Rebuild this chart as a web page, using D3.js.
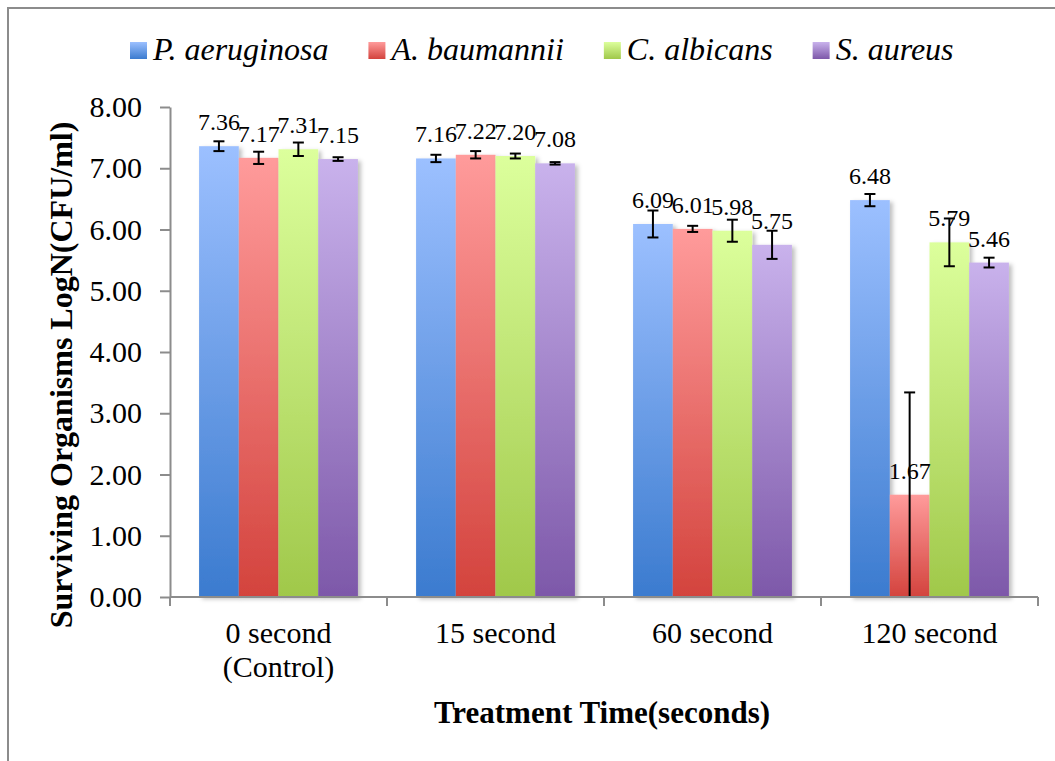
<!DOCTYPE html>
<html>
<head>
<meta charset="utf-8">
<script src="https://cdn.jsdelivr.net/npm/d3@7"></script>
<style>
  body { margin: 0; background: #fff; }
  svg { display: block; }
  text { font-family: "Liberation Serif", "Times New Roman", serif; fill: #000; }
</style>
</head>
<body>
<div id="chart"></div>
<script>
// categories and series
const categories = ["0 second (Control)", "15 second", "60 second", "120 second"];
const categoryLines = [["0 second", "(Control)"], ["15 second"], ["60 second"], ["120 second"]];
const seriesNames = ["P. aeruginosa", "A. baumannii", "C. albicans", "S. aureus"];

// means (LogN CFU/ml)
const pAeruginosa = [7.36, 7.16, 6.09, 6.48];
const aBaumannii = [7.17, 7.22, 6.01, 1.67];
const cAlbicans = [7.31, 7.20, 5.98, 5.79];
const sAureus = [7.15, 7.08, 5.75, 5.46];

// error bars (+/-)
const pAeruginosaErr = [0.08, 0.06, 0.22, 0.10];
const aBaumanniiErr = [0.10, 0.06, 0.05, 1.67];
const cAlbicansErr = [0.11, 0.04, 0.18, 0.39];
const sAureusErr = [0.03, 0.02, 0.23, 0.08];

const yTicks = [0, 1, 2, 3, 4, 5, 6, 7, 8];

const allValues = [pAeruginosa, aBaumannii, cAlbicans, sAureus];
const allErrors = [pAeruginosaErr, aBaumanniiErr, cAlbicansErr, sAureusErr];

// colours : top / bottom of gradient
const colors = [
  ["#9cc0ff", "#3b7bcf"],
  ["#ff9b9b", "#d3433d"],
  ["#dcff9c", "#a0c84a"],
  ["#c9b2ec", "#7d58a9"]
];

const W = 1055, H = 761;
const plot = { left: 170, right: 1038, top: 107, bottom: 597 };

const svg = d3.select("#chart").append("svg")
  .attr("width", W).attr("height", H);

const defs = svg.append("defs");
colors.forEach((c, i) => {
  const g = defs.append("linearGradient")
    .attr("id", "grad" + i)
    .attr("x1", 0).attr("y1", 0).attr("x2", 0).attr("y2", 1);
  g.append("stop").attr("offset", "0%").attr("stop-color", c[0]);
  g.append("stop").attr("offset", "100%").attr("stop-color", c[1]);
});
const f = defs.append("filter").attr("id", "shadow")
  .attr("x", "-20%").attr("y", "-5%").attr("width", "150%").attr("height", "120%");
f.append("feDropShadow").attr("dx", 3).attr("dy", 2).attr("stdDeviation", 2)
  .attr("flood-color", "#000").attr("flood-opacity", 0.25);

// outer frame (top and left visible)
svg.append("path")
  .attr("d", `M8,${H} L8,8 L${W},8`)
  .attr("fill", "none").attr("stroke", "#8c8c8c").attr("stroke-width", 2);

// scales
const x0 = d3.scaleBand().domain(categories).range([plot.left, plot.right]).padding(0);
const gap = x0.bandwidth() * 0.134;
const x1 = d3.scaleBand().domain(seriesNames).range([gap, x0.bandwidth() - gap]).padding(0);
const y = d3.scaleLinear().domain([0, 8]).range([plot.bottom, plot.top]);

// bars
const groups = svg.selectAll("g.cat")
  .data(categories).enter().append("g")
  .attr("class", "cat")
  .attr("transform", d => `translate(${x0(d)},0)`);

groups.each(function (cat, ci) {
  const g = d3.select(this);
  const rows = seriesNames.map((s, si) => ({
    s, si, v: allValues[si][ci], e: allErrors[si][ci]
  }));

  g.selectAll("rect").data(rows).enter().append("rect")
    .attr("x", d => x1(d.s))
    .attr("y", d => y(d.v))
    .attr("width", x1.bandwidth())
    .attr("height", d => y(0) - y(d.v))
    .attr("fill", d => `url(#grad${d.si})`)
    .attr("filter", "url(#shadow)");

  // data labels
  g.selectAll("text.lbl").data(rows).enter().append("text")
    .attr("class", "lbl")
    .attr("x", d => x1(d.s) + x1.bandwidth() / 2)
    .attr("y", d => y(d.v) - 16)
    .attr("text-anchor", "middle")
    .style("font-size", "24px")
    .text(d => d.v.toFixed(2));

  // error bars
  const eb = g.selectAll("g.err").data(rows).enter().append("g").attr("class", "err")
    .attr("stroke", "#000").attr("stroke-width", 2);
  eb.append("line")
    .attr("x1", d => x1(d.s) + x1.bandwidth() / 2)
    .attr("x2", d => x1(d.s) + x1.bandwidth() / 2)
    .attr("y1", d => y(Math.max(0, d.v - d.e)))
    .attr("y2", d => y(d.v + d.e));
  eb.append("line")
    .attr("x1", d => x1(d.s) + x1.bandwidth() / 2 - 5.5)
    .attr("x2", d => x1(d.s) + x1.bandwidth() / 2 + 5.5)
    .attr("y1", d => y(d.v + d.e)).attr("y2", d => y(d.v + d.e));
  eb.filter(d => d.v - d.e > 0.001).append("line")
    .attr("x1", d => x1(d.s) + x1.bandwidth() / 2 - 5.5)
    .attr("x2", d => x1(d.s) + x1.bandwidth() / 2 + 5.5)
    .attr("y1", d => y(d.v - d.e)).attr("y2", d => y(d.v - d.e));
});

// y axis
const yAxis = svg.append("g")
  .attr("transform", `translate(${plot.left},0)`)
  .call(d3.axisLeft(y).tickValues(yTicks).tickFormat(d3.format(".2f")).tickSize(10).tickSizeOuter(0).tickPadding(18));
yAxis.selectAll("line, path").attr("stroke", "#8c8c8c").attr("stroke-width", 2);
yAxis.selectAll("text").style("font-size", "30px").style("font-family", "Liberation Serif");

// x axis
const xAxis = svg.append("g")
  .attr("transform", `translate(0,${plot.bottom})`)
  .call(d3.axisBottom(x0).tickSize(0).tickFormat(""));
xAxis.select("path").attr("stroke", "#8c8c8c").attr("stroke-width", 2).attr("d", `M${plot.left},0H${plot.right}`);
const bounds = categories.map(c => x0(c)).concat([plot.right]);
xAxis.selectAll("line.bt").data(bounds).enter().append("line").attr("class", "bt")
  .attr("x1", d => d).attr("x2", d => d).attr("y1", 0).attr("y2", 9)
  .attr("stroke", "#8c8c8c").attr("stroke-width", 2);

categories.forEach((c, i) => {
  const t = svg.append("text")
    .attr("x", x0(c) + x0.bandwidth() / 2)
    .attr("y", 643)
    .attr("text-anchor", "middle")
    .style("font-size", "30px");
  categoryLines[i].forEach((ln, li) => {
    t.append("tspan").attr("x", x0(c) + x0.bandwidth() / 2).attr("dy", li === 0 ? 0 : 34).text(ln);
  });
});

// axis titles
svg.append("text")
  .attr("x", 602).attr("y", 723)
  .attr("text-anchor", "middle")
  .style("font-size", "31px").style("font-weight", "bold")
  .text("Treatment Time(seconds)");

svg.append("text")
  .attr("transform", "translate(72,375) rotate(-90)")
  .attr("text-anchor", "middle")
  .style("font-size", "32px").style("font-weight", "bold")
  .text("Surviving Organisms LogN(CFU/ml)");

// legend
const legend = svg.append("g").attr("transform", "translate(130,0)");
let lx = 0;
seriesNames.forEach((s, i) => {
  const item = legend.append("g").attr("transform", `translate(${lx},0)`);
  item.append("rect").attr("x", 0).attr("y", 42).attr("width", 17).attr("height", 17)
    .attr("fill", `url(#grad${i})`);
  const t = item.append("text").attr("x", 23).attr("y", 60)
    .style("font-size", "32px").style("font-style", "italic")
    .text(s);
  lx += 23 + t.node().getComputedTextLength() + 40;
});
</script>
</body>
</html>
